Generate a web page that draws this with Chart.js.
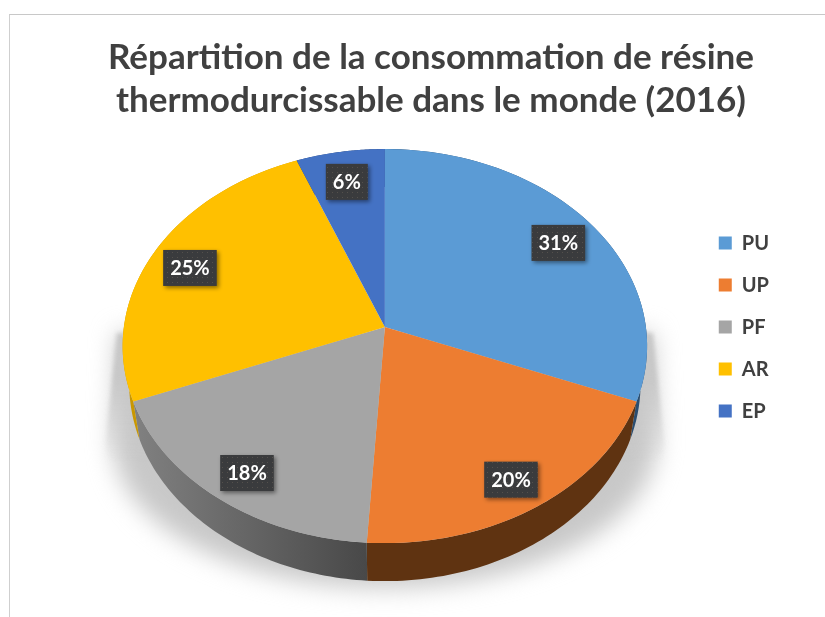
<!DOCTYPE html>
<html lang="fr">
<head>
<meta charset="utf-8">
<title>Résine thermodurcissable</title>
<script src="https://cdn.jsdelivr.net/npm/chart.js@4"></script>
<style>
    html, body { margin: 0; background: #fff; overflow: hidden; }
    #marco { position: absolute; left: 9px; top: 14px; right: 0; bottom: 0; border-left: 1px solid #cfcfcf; border-top: 1px solid #c8c8c8; }
    #grafico { position: absolute; left: 0; top: 0; }
</style>
</head>
<body>
<div id="marco"></div>
<canvas id="grafico" width="825" height="617"></canvas>
<script>
// Data
const categories = ["PU", "UP", "PF", "AR", "EP"];
const valeurs = [31, 20, 18, 25, 6];
const titre = ["Répartition de la consommation de résine", "thermodurcissable dans le monde (2016)"];

// Colours
const couleurs = ["#5b9bd5", "#ed7d31", "#a5a5a5", "#ffc000", "#4472c4"];
const flancGauche = ["#2f557a", "#5f3311", "#808080", "#c99700", "#2a4578"];
const flancDroit = ["#2a4d70", "#5f3311", "#444444", "#c99700", "#2a4578"];

// Perspective of the tilted disc
const largeur = 261;
const hauteur = 195.2;
const fuite = 0.0965;
const epaisseur = 38;
const decalageX = -5;

// Disc point (u to the right, v to the back) to screen
function projeter(cx, cy, u, v) {
    const w = 1 + fuite * v;
    return { x: cx + largeur * u / w, y: cy - hauteur * v / w };
}

function cheminOmbre(ctx, cx, cy, bord, bas) {
    ctx.beginPath();
    ctx.moveTo(cx - 268, cy + 6);
    ctx.lineTo(cx - bord, cy + 115);
    ctx.ellipse(cx, cy + 115, bord, bas, 0, Math.PI, 0, true);
    ctx.lineTo(cx + 268, cy + 6);
    ctx.closePath();
}

// Soft below, sharper along the sides
function tracerOmbre(ctx, cx, cy) {
    ctx.save();
    ctx.fillStyle = "#c8c8c8";
    ctx.filter = "blur(12px)";
    cheminOmbre(ctx, cx, cy, 272, 146);
    ctx.fill();
    ctx.filter = "blur(2px)";
    const fondu = ctx.createLinearGradient(0, cy + 50, 0, cy + 135);
    fondu.addColorStop(0, "rgba(200,200,200,1)");
    fondu.addColorStop(1, "rgba(200,200,200,0)");
    ctx.fillStyle = fondu;
    cheminOmbre(ctx, cx, cy, 279, 146);
    ctx.fill();
    ctx.restore();
}

function tracerFlanc(ctx, arc, i, cx, cy) {
    const pas = 60;
    const haut = [];
    for (let n = 0; n <= pas; n++) {
        const a = arc.startAngle + (arc.endAngle - arc.startAngle) * n / pas;
        haut.push(projeter(cx, cy, Math.cos(a), -Math.sin(a)));
    }
    ctx.beginPath();
    haut.forEach((p, n) => (n ? ctx.lineTo(p.x, p.y) : ctx.moveTo(p.x, p.y)));
    haut.reverse().forEach((p) => ctx.lineTo(cx + (p.x - cx) * 0.975, p.y + epaisseur));
    ctx.closePath();
    const deg = ctx.createLinearGradient(cx - largeur * 0.95, 0, cx, 0);
    deg.addColorStop(0, flancGauche[i]);
    deg.addColorStop(1, flancDroit[i]);
    ctx.fillStyle = deg;
    ctx.fill();
}

// The chart's own arc elements, redrawn row by row with the scale of that row
function tracerDessus(ctx, arcs, cx, cy) {
    const a0 = arcs[0];
    const r = a0.outerRadius;
    const yMin = Math.floor(projeter(cx, cy, 0, 1).y) - 1;
    const yMax = Math.ceil(projeter(cx, cy, 0, -1).y) + 1;
    for (let y = yMin; y < yMax; y++) {
        const dy = cy - (y + 0.5);
        const v = dy / (hauteur - fuite * dy);
        const w = 1 + fuite * v;
        ctx.save();
        ctx.beginPath();
        ctx.rect(0, y, 825, 1);
        ctx.clip();
        ctx.translate(cx, y + 0.5);
        ctx.scale(largeur / w / r, hauteur / (w * w) / r);
        ctx.translate(-a0.x, -a0.y + v * r);
        arcs.forEach((arc) => arc.draw(ctx));
        ctx.restore();
    }
}

function motifEtiquette(ctx) {
    const c = document.createElement("canvas");
    c.width = 5;
    c.height = 5;
    const p = c.getContext("2d");
    p.fillStyle = "#3a3b3d";
    p.fillRect(0, 0, 5, 5);
    p.fillStyle = "#54504c";
    p.fillRect(2, 2, 1, 1);
    return ctx.createPattern(c, "repeat");
}

function tracerEtiquettes(ctx, arcs, cx, cy) {
    const motif = motifEtiquette(ctx);
    ctx.font = "bold 20px Lato";
    ctx.textAlign = "center";
    ctx.textBaseline = "middle";
    arcs.forEach((arc, i) => {
        const milieu = (arc.startAngle + arc.endAngle) / 2;
        const p = projeter(cx, cy, Math.cos(milieu) * 0.84, -Math.sin(milieu) * 0.84);
        const yBoite = p.y + 4;
        const texte = valeurs[i] + "%";
        const w = ctx.measureText(texte).width + 14;
        ctx.save();
        ctx.shadowColor = "rgba(0,0,0,0.45)";
        ctx.shadowBlur = 4;
        ctx.shadowOffsetX = 2;
        ctx.shadowOffsetY = 2;
        ctx.fillStyle = motif;
        ctx.fillRect(p.x - w / 2, yBoite - 18, w, 36);
        ctx.restore();
        ctx.fillStyle = "#ffffff";
        ctx.fillText(texte, p.x, yBoite + 1);
    });
}

const camembert3d = {
    id: "camembert3d",
    beforeDatasetsDraw(chart) {
        const ctx = chart.ctx;
        const arcs = chart.getDatasetMeta(0).data;
        const cx = arcs[0].x + decalageX;
        const cy = arcs[0].y;
        tracerOmbre(ctx, cx, cy);
        arcs.forEach((arc, i) => tracerFlanc(ctx, arc, i, cx, cy));
        tracerDessus(ctx, arcs, cx, cy);
        tracerEtiquettes(ctx, arcs, cx, cy);
        return false;
    }
};

new Chart(document.getElementById("grafico"), {
    type: "pie",
    data: {
        labels: categories,
        datasets: [{ data: valeurs, backgroundColor: couleurs, borderWidth: 0 }]
    },
    options: {
        responsive: false,
        animation: false,
        layout: { padding: { left: 83, right: 46, top: 36, bottom: 93 } },
        plugins: {
            tooltip: { enabled: false },
            title: {
                display: true,
                text: titre,
                color: "#404040",
                font: { family: "Lato", size: 35, weight: "bold", lineHeight: 1.23 },
                padding: { top: 0, bottom: 8 }
            },
            legend: {
                position: "right",
                fullSize: false,
                onClick: null,
                labels: {
                    boxWidth: 13,
                    boxHeight: 13,
                    padding: 22,
                    color: "#404040",
                    font: { family: "Lato", size: 20, weight: "bold" }
                }
            }
        }
    },
    plugins: [camembert3d]
});
</script>
</body>
</html>
